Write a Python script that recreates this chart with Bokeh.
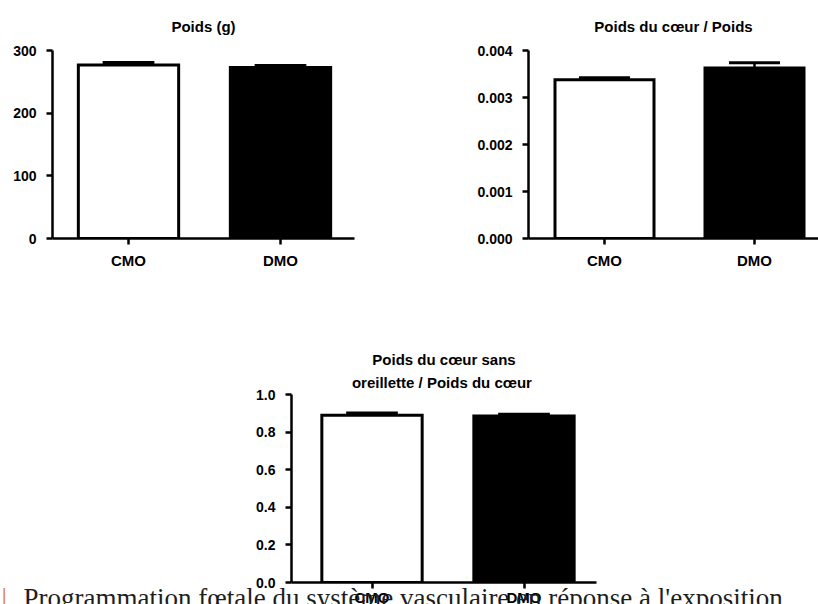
from bokeh.plotting import figure
from bokeh.layouts import column, row
from bokeh.models import FixedTicker, Range1d, NumeralTickFormatter, Title
from bokeh.embed import file_html
from bokeh.resources import INLINE

# ---- data ----
groups = ["CMO", "DMO"]
bar_fill = ["white", "black"]

poids_title = ["Poids (g)"]
poids_mean = [277, 273]
poids_sem = [4, 3]
poids_ticks = [0, 100, 200, 300]

ratio_title = ["Poids du cœur / Poids"]
ratio_mean = [0.00338, 0.00363]
ratio_sem = [0.00004, 0.00011]
ratio_ticks = [0.0, 0.001, 0.002, 0.003, 0.004]

vent_title = ["Poids du cœur sans", "oreillette  / Poids du cœur"]
vent_mean = [0.889, 0.886]
vent_sem = [0.013, 0.009]
vent_ticks = [0.0, 0.2, 0.4, 0.6, 0.8, 1.0]

footer_text = "Programmation fœtale du système vasculaire en réponse à l'exposition"

FONT = "Liberation Sans"


def make_panel(title_lines, means, sems, ticks, fmt, x_start, x_end, width, height,
               mb_left, mb_right, mb_top, mb_bottom, standoffs, xlabel_standoff=7):
    xs = list(range(1, len(groups) + 1))
    p = figure(width=width, height=height, output_backend="svg", toolbar_location=None,
               x_range=Range1d(x_start, x_end), y_range=Range1d(ticks[0], ticks[-1]),
               min_border_left=mb_left, min_border_right=mb_right,
               min_border_top=mb_top, min_border_bottom=mb_bottom)
    p.title.visible = False
    p.outline_line_color = None
    p.xgrid.visible = False
    p.ygrid.visible = False
    p.background_fill_color = "white"
    p.border_fill_color = "white"

    # titles: add the line nearest the plot first
    for line, so in zip(reversed(title_lines), reversed(standoffs)):
        p.add_layout(Title(text=line, align="center", text_font=FONT,
                           text_font_style="bold", text_font_size="15px",
                           text_color="black", standoff=so), "above")

    p.vbar(x=xs, top=means, width=0.66, bottom=0, fill_color=bar_fill,
           line_color="black", line_width=3, line_join="miter")
    tops = [m + s for m, s in zip(means, sems)]
    p.segment(x0=xs, y0=means, x1=xs, y1=tops, line_color="black", line_width=2.5)
    p.segment(x0=[x - 0.17 for x in xs], y0=tops, x1=[x + 0.17 for x in xs], y1=tops,
              line_color="black", line_width=3)

    for ax in (p.xaxis[0], p.yaxis[0]):
        ax.axis_line_width = 2.5
        ax.axis_line_color = "black"
        ax.major_tick_line_width = 2.5
        ax.major_tick_line_color = "black"
        ax.major_tick_in = 0
        ax.major_tick_out = 6
        ax.minor_tick_line_color = None
        ax.major_label_text_font = FONT
        ax.major_label_text_font_style = "bold"
        ax.major_label_text_color = "black"

    p.yaxis.ticker = FixedTicker(ticks=ticks)
    p.yaxis.formatter = NumeralTickFormatter(format=fmt)
    p.yaxis.major_label_text_font_size = "14px"
    p.yaxis.major_label_standoff = 10

    p.xaxis.ticker = FixedTicker(ticks=xs)
    p.xaxis.major_label_text_font_size = "15px"
    p.xaxis.major_label_standoff = xlabel_standoff
    p.xaxis.major_label_overrides = {x: g for x, g in zip(xs, groups)}
    return p


p1 = make_panel(poids_title, poids_mean, poids_sem, poids_ticks, "0",
                0.5, 0.5 + 302 / 152, 410, 300, 52, 56, 50, 62, [31])
p2 = make_panel(ratio_title, ratio_mean, ratio_sem, ratio_ticks, "0.000",
                1 - 76 / 150, 1 - 76 / 150 + 290 / 150, 408, 300, 118, 0, 50, 62, [31])
p3 = make_panel(vent_title, vent_mean, vent_sem, vent_ticks, "0.0",
                1 - 80.5 / 152, 1 - 80.5 / 152 + 305 / 152, 818, 308, 291, 222, 94, 26,
                [2, 7], xlabel_standoff=0)

# running footer of the scanned page: a transparent strip laid over the lower chart
pf = figure(width=818, height=30, output_backend="svg", toolbar_location=None,
            x_range=Range1d(0, 818), y_range=Range1d(0, 30),
            x_axis_type=None, y_axis_type=None, min_border=0)
pf.title.visible = False
pf.outline_line_color = None
pf.xgrid.visible = False
pf.ygrid.visible = False
pf.background_fill_alpha = 0
pf.border_fill_alpha = 0
pf.text(x=[1], y=[7], text=["|"], text_font="DejaVu Sans", text_font_size="27px",
        text_color="#e07a3a", text_baseline="alphabetic")
pf.text(x=[23], y=[7], text=[footer_text], text_font="DejaVu Sans Condensed",
        text_font_size="27px", text_color="#1e1e1e", text_baseline="alphabetic")

layout = column(row(p1, p2), p3, row(pf, margin=(-34, 0, 0, 0)))
open("out.html", "w").write(file_html(layout, INLINE))
